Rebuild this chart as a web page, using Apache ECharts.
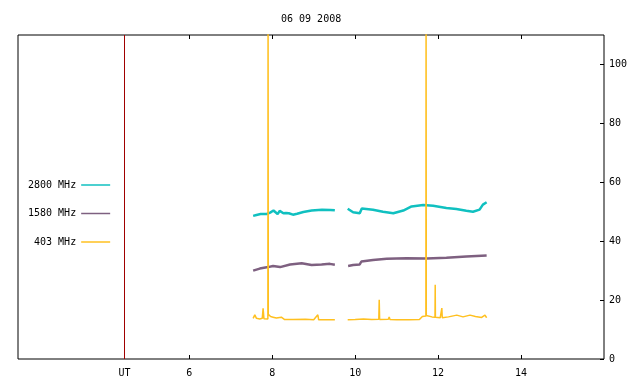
<!DOCTYPE html>
<html>
<head>
<meta charset="utf-8">
<script src="https://cdn.jsdelivr.net/npm/echarts@6/dist/echarts.min.js"></script>
<style>
html, body {margin:0; padding:0; background:#fff;}
#chart {width:640px; height:384px;}
</style>
</head>
<body>
<div id="chart"></div>
<script>
var title = '06 09 2008';
var names = ['2800 MHz', '1580 MHz', '403 MHz'];
var utHour = 4.44;
var xTicks = [6, 8, 10, 12, 14];
var yTicks = [0, 20, 40, 60, 80, 100];

// null = gap in the record
var hours2800 = [7.54, 7.62, 7.72, 7.86, 7.95, 8.03, 8.08, 8.13, 8.18, 8.22, 8.27, 8.33, 8.40, 8.50, 8.60, 8.75, 8.95, 9.20, 9.40, 9.51,
	9.66,
	9.82, 9.95, 10.11, 10.16, 10.43, 10.67, 10.92, 11.16, 11.36, 11.64, 11.88, 12.20, 12.44, 12.68, 12.84, 13.00, 13.08, 13.17];
var flux2800 = [48.6, 48.9, 49.2, 49.2, 49.7, 50.4, 49.8, 49.2, 50.3, 49.8, 49.5, 49.6, 49.5, 49.0, 49.3, 49.9, 50.4, 50.7, 50.6, 50.5,
	null,
	51.0, 49.8, 49.5, 51.1, 50.7, 50.0, 49.5, 50.4, 51.8, 52.3, 52.0, 51.3, 50.9, 50.3, 50.0, 50.7, 52.4, 53.2];

var hours1580 = [7.54, 7.70, 7.90, 8.02, 8.19, 8.43, 8.71, 8.95, 9.19, 9.39, 9.51,
	9.66,
	9.83, 9.95, 10.11, 10.15, 10.43, 10.76, 11.24, 11.72, 12.20, 12.68, 13.17];
var flux1580 = [30.0, 30.7, 31.2, 31.6, 31.2, 32.1, 32.5, 31.9, 32.1, 32.3, 32.0,
	null,
	31.6, 31.9, 32.1, 33.1, 33.6, 34.0, 34.2, 34.1, 34.4, 34.8, 35.1];

var hours403 = [7.54, 7.58, 7.62, 7.70, 7.76, 7.78, 7.80, 7.895, 7.90, 7.905, 7.96, 8.02, 8.10, 8.22, 8.30, 8.50, 8.80, 9.00, 9.10, 9.12, 9.30, 9.51,
	9.66,
	9.82, 10.00, 10.20, 10.40, 10.57, 10.58, 10.59, 10.80, 10.82, 10.84, 11.00, 11.30, 11.55, 11.62, 11.705, 11.71, 11.715, 11.85, 11.925, 11.93, 11.935,
	12.05, 12.09, 12.10, 12.25, 12.45, 12.60, 12.77, 12.90, 13.05, 13.13, 13.17];
var flux403 = [13.8, 15.0, 13.8, 13.6, 13.8, 17.2, 13.7, 13.6, 120, 15.2, 14.4, 14.2, 13.9, 14.2, 13.4, 13.4, 13.5, 13.3, 15.0, 13.3, 13.3, 13.3,
	null,
	13.3, 13.4, 13.6, 13.4, 13.5, 20.1, 13.4, 13.5, 14.3, 13.4, 13.3, 13.3, 13.4, 14.4, 14.6, 120, 14.8, 14.3, 14.2, 25.2, 14.2,
	14.0, 17.3, 14.0, 14.3, 14.9, 14.3, 14.9, 14.4, 14.1, 14.9, 14.0];

var colors = ['#10c0c0', '#7e6080', '#ffc020'];
var mono = 'DejaVu Sans Mono';

function pairs(h, v) {
	var out = [];
	for (var i = 0; i < h.length; i++) {
		out.push([h[i], v[i]]);
	}
	return out;
}

var chart = echarts.init(document.getElementById('chart'));
chart.setOption({
	animation: false,
	backgroundColor: '#fff',
	title: {
		text: title,
		left: 281,
		top: 14,
		padding: 0,
		textStyle: {fontFamily: mono, fontSize: 10, fontWeight: 'normal', color: '#000'}
	},
	legend: {
		orient: 'vertical',
		left: 28,
		top: 180,
		align: 'right',
		padding: 0,
		icon: 'rect',
		itemWidth: 29,
		itemHeight: 1.5,
		itemGap: 18.5,
		textStyle: {fontFamily: mono, fontSize: 10, color: '#000'},
		data: names
	},
	grid: {
		left: 18, right: 36, top: 35, bottom: 25,
		show: true, borderColor: '#000', borderWidth: 1
	},
	xAxis: [
		{
			type: 'value', position: 'bottom', min: 1.87, max: 16,
			axisLine: {show: false},
			splitLine: {show: false},
			axisTick: {inside: true, length: 4, customValues: xTicks, lineStyle: {color: '#000'}},
			axisLabel: {
				customValues: [utHour].concat(xTicks),
				formatter: function (v) { return v === utHour ? 'UT' : String(v); },
				margin: 9, color: '#000', fontFamily: mono, fontSize: 10
			}
		},
		{
			type: 'value', position: 'top', min: 1.87, max: 16,
			axisLine: {show: false},
			splitLine: {show: false},
			axisTick: {inside: true, length: 4, customValues: xTicks, lineStyle: {color: '#000'}},
			axisLabel: {show: false}
		}
	],
	yAxis: {
		type: 'value', position: 'right', min: 0, max: 110,
		axisLine: {show: false},
		splitLine: {show: false},
		axisTick: {show: true, inside: true, length: 4, customValues: yTicks, lineStyle: {color: '#000'}},
		axisLabel: {customValues: yTicks, margin: 5, color: '#000', fontFamily: mono, fontSize: 10}
	},
	series: [
		{
			name: names[0], type: 'line', showSymbol: false, symbol: 'none',
			data: pairs(hours2800, flux2800),
			lineStyle: {color: colors[0], width: 2.5},
			itemStyle: {color: colors[0]},
			markLine: {
				silent: true, symbol: 'none', label: {show: false},
				lineStyle: {color: '#a00000', width: 1, type: 'solid'},
				data: [{xAxis: utHour}]
			}
		},
		{
			name: names[1], type: 'line', showSymbol: false, symbol: 'none',
			data: pairs(hours1580, flux1580),
			lineStyle: {color: colors[1], width: 2.5},
			itemStyle: {color: colors[1]}
		},
		{
			name: names[2], type: 'line', showSymbol: false, symbol: 'none',
			data: pairs(hours403, flux403),
			lineStyle: {color: colors[2], width: 1.5},
			itemStyle: {color: colors[2]}
		}
	]
});
</script>
</body>
</html>
